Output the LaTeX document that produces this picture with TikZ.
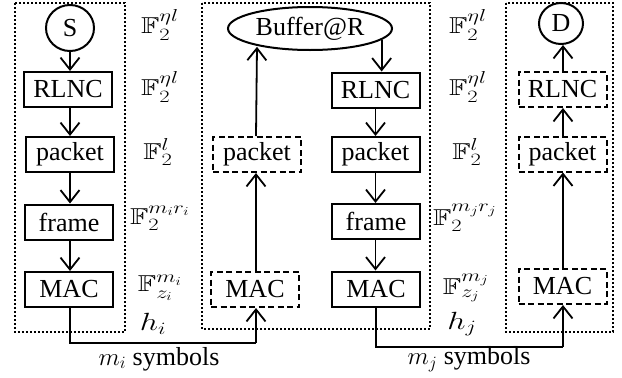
\documentclass[tikz,border=0pt]{standalone}
\usepackage{fontspec}
\setmainfont{Liberation Serif}
\usepackage{amssymb}
\usepackage{graphicx}
\usetikzlibrary{arrows.meta,shapes.geometric}
\tikzset{
  box/.style={draw, line width=2pt, minimum width=88pt, minimum height=35pt, inner sep=0pt, font=\fontsize{26}{30}\selectfont},
  dbox/.style={box, dash pattern=on 6pt off 3.5pt},
  circ/.style={draw, ellipse, line width=2pt, inner sep=0pt, font=\fontsize{26}{30}\selectfont},
  grp/.style={draw, line width=2pt, dash pattern=on 2pt off 2pt},
  arr/.style={line width=1.8pt, -{Straight Barb[length=12pt,width=19pt]}},
  conn/.style={line width=1.8pt},
  lbl/.style={inner sep=0pt, font=\fontsize{23}{26}\selectfont},
  sym/.style={inner sep=0pt, font=\fontsize{26}{30}\selectfont}
}
\newcommand{\wide}[1]{\scalebox{1.3}[1]{$#1$}}
\begin{document}
\begin{tikzpicture}[x=1pt,y=-1pt]
\useasboundingbox (0,0) rectangle (622,378);
% group boxes
\path[grp] (15,3) rectangle (125,332);
\path[grp] (202,3) rectangle (430,329);
\path[grp] (506,3) rectangle (613,332);
% left column
\node[circ, minimum width=48pt, minimum height=46pt] (S) at (70,28) {S};
\node[box] (rl1) at (68,89.5) {RLNC};
\node[box] (pk1) at (70,154.5) {packet};
\node[box] (fr1) at (69,222) {frame};
\node[box] (mac1) at (69,289.5) {MAC};
\draw[arr] (S.south) -- (S.south |- rl1.north);
\draw[arr] (rl1.south -| S.south) -- (pk1.north -| S.south);
\draw[arr] (pk1.south -| S.south) -- (fr1.north -| S.south);
\draw[arr] (fr1.south -| S.south) -- (mac1.north -| S.south);
% middle box
\node[circ, minimum width=164pt, minimum height=43pt] (buf) at (310,28.5) {Buffer@R};
\node[dbox] (pk2) at (257,154.5) {packet};
\node[dbox] (mac2) at (255,289.5) {MAC};
\coordinate (c2) at (256,0);
\draw[arr] (mac2.north -| c2) -- (pk2.south -| c2);
\draw[arr] (pk2.north -| c2) -- ([yshift=-2pt]pk2.north |- buf.-164);
\node[box] (rl3) at (375.5,90) {RLNC};
\node[box] (pk3) at (375.5,154.5) {packet};
\node[box] (fr3) at (376,221.5) {frame};
\node[box] (mac3) at (376,289) {MAC};
\draw[arr] (buf.-9) -- (buf.-9 |- rl3.north);
\draw[arr] (rl3.south) -- (pk3.north -| rl3.south);
\draw[arr] (pk3.south -| rl3.south) -- (fr3.north -| rl3.south);
\draw[arr] (fr3.south -| rl3.south) -- (mac3.north -| rl3.south);
% right box
\node[circ, minimum width=44pt, minimum height=41pt] (D) at (561,23.5) {D};
\node[dbox] (rl4) at (562.5,89.5) {RLNC};
\node[dbox] (pk4) at (562.5,154) {packet};
\node[dbox] (mac4) at (562.5,286.5) {MAC};
\coordinate (c4) at (563,0);
\draw[arr] (mac4.north -| c4) -- (pk4.south -| c4);
\draw[arr] (pk4.north -| c4) -- (rl4.south -| c4);
\draw[arr] (rl4.north -| c4) -- (D.south -| c4);
% connectors between hops
\coordinate (b1) at (0,343);
\coordinate (b2) at (0,347);
\draw[conn] (mac1.south -| S.south) -- (b1 -| S.south) -- (b1 -| c2);
\draw[arr] (b1 -| c2) -- (mac2.south -| c2);
\draw[conn] (mac3.south) -- (b2 -| mac3.south) -- (b2 -| c4);
\draw[arr] (b2 -| c4) -- (mac4.south -| c4);
\node[sym] (s1) at (159,359) {$m_i$ symbols};
\node[sym] (s2) at (469,359) {$m_j$ symbols};
% field labels
\node[lbl] (a1) at (160,25) {\wide{\mathbb{F}_2^{\eta l}}};
\node[lbl] (a2) at (160,87) {\wide{\mathbb{F}_2^{\eta l}}};
\node[lbl] (a3) at (158,152) {\wide{\mathbb{F}_2^{l}}};
\node[lbl] (a4) at (160,218) {\wide{\mathbb{F}_2^{m_i r_i}}};
\node[lbl] (a5) at (160,288) {\wide{\mathbb{F}_{z_i}^{m_i}}};
\node[lbl] (a6) at (153,324) {\wide{h_i}};
\node[lbl] (b1l) at (468,25) {\wide{\mathbb{F}_2^{\eta l}}};
\node[lbl] (b2l) at (468,87) {\wide{\mathbb{F}_2^{\eta l}}};
\node[lbl] (b3l) at (467,152) {\wide{\mathbb{F}_2^{l}}};
\node[lbl] (b4l) at (465,218) {\wide{\mathbb{F}_2^{m_j r_j}}};
\node[lbl] (b5l) at (466,288) {\wide{\mathbb{F}_{z_j}^{m_j}}};
\node[lbl] (b6l) at (462,324) {\wide{h_j}};
\end{tikzpicture}
\end{document}
